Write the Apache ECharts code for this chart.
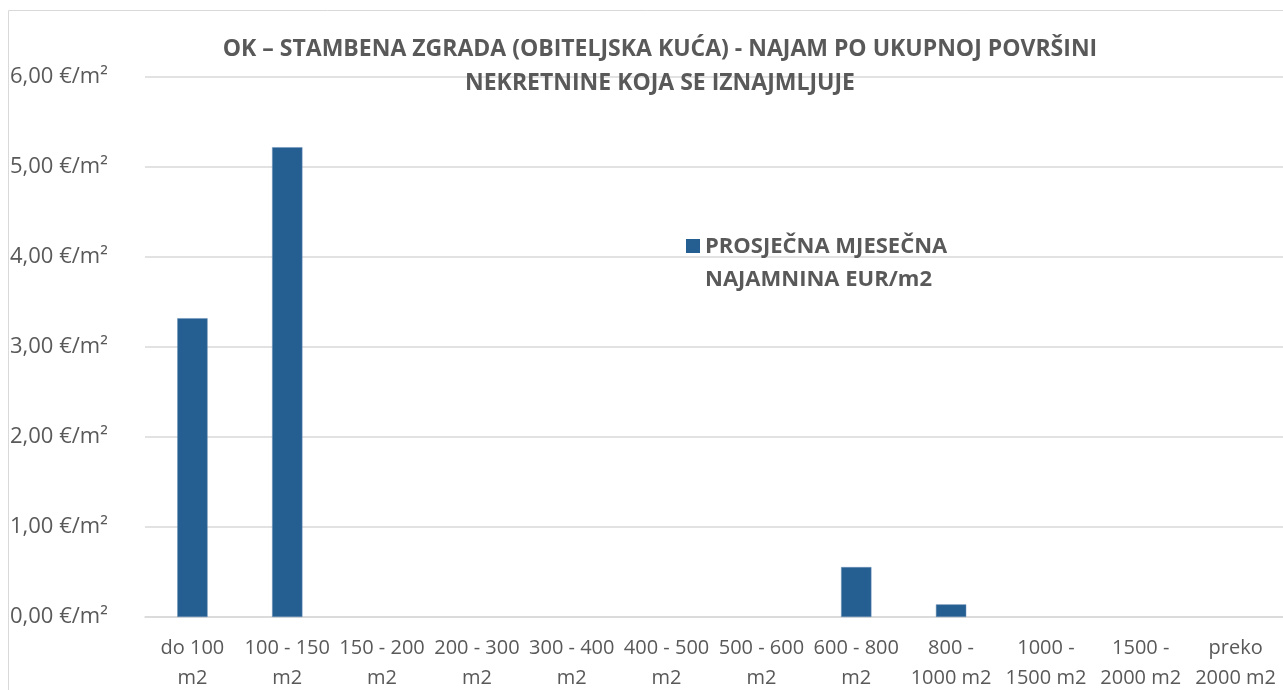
<!DOCTYPE html>
<html>
<head>
<meta charset="utf-8">
<script src="https://cdn.jsdelivr.net/npm/echarts@6/dist/echarts.min.js"></script>
<style>
  html, body { margin: 0; padding: 0; background: #fff; }
  #chart { width: 1283px; height: 690px; }
</style>
</head>
<body>
<div id="chart"></div>
<script>
const categories = [
  'do 100\nm2', '100 - 150\nm2', '150 - 200\nm2', '200 - 300\nm2',
  '300 - 400\nm2', '400 - 500\nm2', '500 - 600\nm2', '600 - 800\nm2',
  '800 -\n1000 m2', '1000 -\n1500 m2', '1500 -\n2000 m2', 'preko\n2000 m2'
];
const rentValues = [3.32, 5.22, null, null, null, null, null, 0.555, 0.14, null, null, null];
const seriesName = 'PROSJEČNA MJESEČNA\nNAJAMNINA EUR/m2';
const titleText = 'OK – STAMBENA ZGRADA (OBITELJSKA KUĆA) - NAJAM PO UKUPNOJ POVRŠINI\nNEKRETNINE KOJA SE IZNAJMLJUJE';

const font = 'Open Sans';
const chart = echarts.init(document.getElementById('chart'));

// square at the top of a tall box, so the legend mark lines up with the first text line
const legendIcon = 'path://M0,0h10v10h-10z M0,34.3h10';

chart.setOption({
  animation: false,
  textStyle: { fontFamily: font },
  graphic: [{
    type: 'rect',
    shape: { x: 8.5, y: 10.5, width: 1400, height: 800 },
    style: { fill: 'none', stroke: '#d9d9d9', lineWidth: 1 },
    silent: true
  }],
  title: {
    text: titleText,
    left: 655,
    top: 27,
    textAlign: 'center',
    textStyle: {
      fontFamily: font,
      fontSize: 23,
      fontWeight: 'bold',
      color: '#595959',
      lineHeight: 34,
      align: 'center'
    }
  },
  legend: {
    left: 681,
    top: 225,
    itemWidth: 14,
    itemHeight: 48,
    icon: legendIcon,
    itemStyle: { borderWidth: 0 },
    textStyle: {
      fontFamily: font,
      fontSize: 22,
      fontWeight: 'bold',
      color: '#595959',
      lineHeight: 33
    },
    data: [seriesName]
  },
  grid: { left: 145, right: 0, top: 77, bottom: 73, outerBoundsMode: 'none' },
  xAxis: {
    type: 'category',
    data: categories,
    axisLine: { lineStyle: { color: '#d9d9d9', width: 1.5 } },
    axisTick: { show: false },
    axisLabel: {
      interval: 0,
      color: '#595959',
      fontSize: 20,
      lineHeight: 30,
      margin: 16
    }
  },
  yAxis: {
    type: 'value',
    min: 0,
    max: 6,
    interval: 1,
    axisLine: { show: false },
    axisTick: { show: false },
    splitLine: { lineStyle: { color: '#d9d9d9', width: 1.5 } },
    axisLabel: {
      color: '#595959',
      fontSize: 22,
      align: 'left',
      margin: 135,
      formatter: v => v.toFixed(2).replace('.', ',') + ' €/m²'
    }
  },
  series: [{
    name: seriesName,
    type: 'bar',
    data: rentValues,
    barWidth: '32%',
    itemStyle: { color: '#255e91', borderColor: '#6f93b8', borderWidth: 0.5 }
  }]
});
</script>
</body>
</html>
